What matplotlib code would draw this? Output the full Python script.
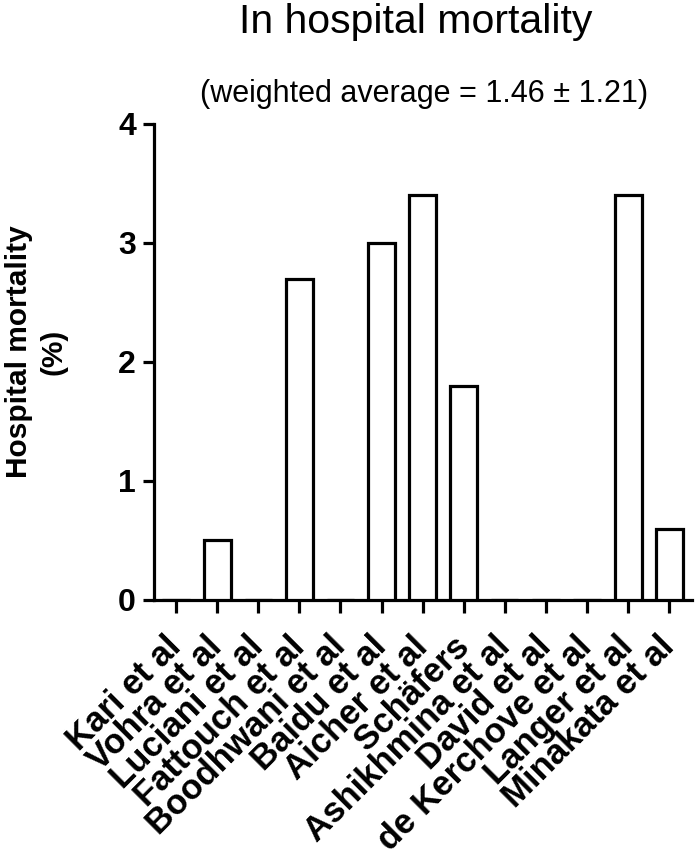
import matplotlib
matplotlib.use("Agg")
import matplotlib.pyplot as plt

plt.rcParams['font.family'] = ['Liberation Sans', 'DejaVu Sans']

# Data
studies = ["Kari et al", "Vohra et al", "Luciani et al", "Fattouch et al",
           "Boodhwani et al", "Baidu et al", "Aicher et al", "Schäfers",
           "Ashikhmina et al", "David et al", "de Kerchove et al",
           "Langer et al", "Minakata et al"]
mortality = [0, 0.5, 0, 2.7, 0, 3.0, 3.4, 1.8, 0, 0, 0, 3.4, 0.6]
y_ticks = [0, 1, 2, 3, 4]

LW = 2.3

fig = plt.figure(figsize=(7, 8.64), dpi=100, facecolor="white")
ax = fig.add_axes([0.22, 0.3056, 0.769, 0.551])

x = list(range(len(studies)))
ax.bar(x, mortality, width=0.66, facecolor="white", edgecolor="black",
       linewidth=LW, zorder=3)

ax.set_xlim(-0.535, len(studies) - 1 + 0.56)
ax.set_ylim(0, 4)
ax.set_yticks(y_ticks)
ax.set_yticklabels([str(t) for t in y_ticks], fontsize=23, fontweight='bold')
ax.set_xticks(x)
ax.set_xticklabels(studies, rotation=45, ha='right', va='center',
                   rotation_mode='anchor', fontsize=25, fontweight='bold')

for side in ['top', 'right']:
    ax.spines[side].set_visible(False)
for side in ['left', 'bottom']:
    ax.spines[side].set_linewidth(LW)
ax.tick_params(axis='y', length=8, width=LW, pad=5)
ax.tick_params(axis='x', length=9, width=LW, pad=21)

fig.text(36 / 700, 1 - 352 / 864, "Hospital mortality\n(%)", rotation=90,
         ha='center', va='center', multialignment='center',
         fontsize=21.5, fontweight='bold', linespacing=1.3)

fig.text(416 / 700, 1 - 33 / 864, "In hospital mortality", ha='center',
         va='baseline', fontsize=29.5)
fig.text(424 / 700, 1 - 102 / 864, "(weighted average = 1.46 \u00b1 1.21)",
         ha='center', va='baseline', fontsize=22)

fig.savefig("out.png", dpi=100, facecolor="white")
